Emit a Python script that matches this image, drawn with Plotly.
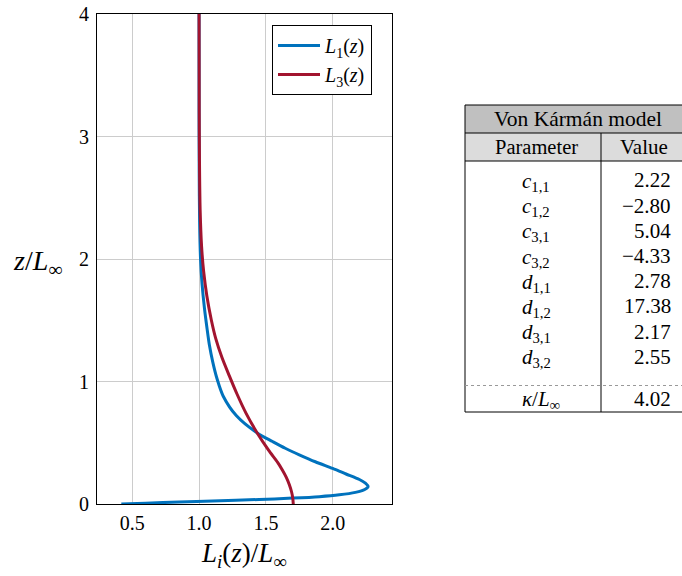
import plotly.graph_objects as go

# ---- curve data ----
L1_x = [0.418, 0.60, 0.85, 1.10, 1.45, 1.70, 1.90, 2.05, 2.17, 2.24, 2.265, 2.245, 2.20, 2.10,
        2.00, 1.87, 1.75, 1.645, 1.55, 1.435, 1.28, 1.18, 1.135, 1.103, 1.077, 1.06, 1.04,
        1.022, 1.011, 1.004, 1.001, 1.000, 1.000]
L1_z = [0.000, 0.007, 0.016, 0.025, 0.037, 0.048, 0.060, 0.075, 0.095, 0.118, 0.142, 0.170,
        0.200, 0.245, 0.290, 0.345, 0.402, 0.455, 0.510, 0.580, 0.720, 0.882, 1.020, 1.156,
        1.30, 1.43, 1.60, 1.80, 2.00, 2.30, 2.70, 3.20, 4.00]

L3_x = [1.705, 1.701, 1.692, 1.675, 1.652, 1.622, 1.588, 1.52, 1.435, 1.352, 1.283, 1.225,
        1.170, 1.125, 1.092, 1.058, 1.034, 1.019, 1.008, 1.003, 1.001, 1.000]
L3_z = [0.00, 0.05, 0.10, 0.16, 0.22, 0.28, 0.34, 0.44, 0.58, 0.74, 0.90, 1.05,
        1.20, 1.35, 1.50, 1.70, 1.90, 2.10, 2.40, 2.80, 3.20, 4.00]

x_ticks = [0.5, 1.0, 1.5, 2.0]
x_tick_labels = ["0.5", "1.0", "1.5", "2.0"]
y_ticks = [0, 1, 2, 3, 4]
y_tick_labels = ["0", "1", "2", "3", "4"]

# ---- table data ----
table_title = "Von Kármán model"
table_headers = ["Parameter", "Value"]
param_labels = ["<i>c</i><sub>1,1</sub>", "<i>c</i><sub>1,2</sub>", "<i>c</i><sub>3,1</sub>",
                "<i>c</i><sub>3,2</sub>", "<i>d</i><sub>1,1</sub>", "<i>d</i><sub>1,2</sub>",
                "<i>d</i><sub>3,1</sub>", "<i>d</i><sub>3,2</sub>"]
param_values = ["2.22", "\u22122.80", "5.04", "\u22124.33", "2.78", "17.38", "2.17", "2.55"]
kappa_label = "<i>\u03ba</i>/<i>L</i><sub>\u221e</sub>"
kappa_value = "4.02"

BLUE = "#0072BD"
RED = "#A2142F"
FONT = "Liberation Serif"

fig = go.Figure()
fig.add_trace(go.Scatter(x=L1_x, y=L1_z, mode="lines", name="<i>L</i><sub>1</sub>(<i>z</i>)",
                         line=dict(color=BLUE, width=3, shape="spline", smoothing=0.8)))
fig.add_trace(go.Scatter(x=L3_x, y=L3_z, mode="lines", name="<i>L</i><sub>3</sub>(<i>z</i>)",
                         line=dict(color=RED, width=3, shape="spline", smoothing=0.8)))

# figure fills the whole window (the page's body margin is removed below)
FW, FH = 682, 576
# plot area geometry in window pixels
PL, PR, PT, PB = 97, 392, 14, 504
W, H = PR - PL, PB - PT


def fx(p):
    return (p - PL) / W


def fy(p):
    return (PB - p) / H


shapes = []
# table (window pixel coordinates)
TL, TR, TT, TH1, TH2, TD, TB, TC = 465, 700, 105, 133, 161, 385.5, 412, 601
shapes.append(dict(type="rect", xref="paper", yref="paper", x0=fx(TL), x1=fx(TR), y0=fy(TH1), y1=fy(TT),
                   fillcolor="#c0c0c0", line=dict(width=0), layer="below"))
shapes.append(dict(type="rect", xref="paper", yref="paper", x0=fx(TL), x1=fx(TR), y0=fy(TH2), y1=fy(TH1),
                   fillcolor="#dcdcdc", line=dict(width=0), layer="below"))
for yy in [TT, TH1, TH2, TB]:
    shapes.append(dict(type="line", xref="paper", yref="paper", x0=fx(TL), x1=fx(TR), y0=fy(yy), y1=fy(yy),
                       line=dict(color="black", width=1)))
shapes.append(dict(type="line", xref="paper", yref="paper", x0=fx(TL), x1=fx(TL), y0=fy(TT), y1=fy(TB),
                   line=dict(color="black", width=1)))
shapes.append(dict(type="line", xref="paper", yref="paper", x0=fx(TC), x1=fx(TC), y0=fy(TH1), y1=fy(TB),
                   line=dict(color="black", width=1)))
shapes.append(dict(type="line", xref="paper", yref="paper", x0=fx(TL), x1=fx(TR), y0=fy(TD), y1=fy(TD),
                   line=dict(color="#999999", width=1, dash="dot")))

TF = 21
ann = []
ann.append(dict(text=table_title, x=fx(578), y=fy(118.5), xref="paper", yref="paper", showarrow=False,
                xanchor="center", yanchor="middle", font=dict(family=FONT, size=21.5, color="black")))
ann.append(dict(text=table_headers[0], x=fx(536), y=fy(147), xref="paper", yref="paper", showarrow=False,
                xanchor="center", yanchor="middle", font=dict(family=FONT, size=20.5, color="black")))
ann.append(dict(text=table_headers[1], x=fx(644), y=fy(147), xref="paper", yref="paper", showarrow=False,
                xanchor="center", yanchor="middle", font=dict(family=FONT, size=21, color="black")))
for i, (lab, val) in enumerate(zip(param_labels, param_values)):
    yc = 180.5 + 25.2 * i
    ann.append(dict(text=lab, x=fx(536), y=fy(yc + 1.5), xref="paper", yref="paper", showarrow=False,
                    xanchor="center", yanchor="middle", font=dict(family=FONT, size=TF, color="black")))
    ann.append(dict(text=val, x=fx(673), y=fy(yc), xref="paper", yref="paper", showarrow=False,
                    xanchor="right", yanchor="middle", font=dict(family=FONT, size=TF, color="black")))
ann.append(dict(text=kappa_label, x=fx(541), y=fy(400), xref="paper", yref="paper", showarrow=False,
                xanchor="center", yanchor="middle", font=dict(family=FONT, size=TF, color="black")))
ann.append(dict(text=kappa_value, x=fx(673), y=fy(398.5), xref="paper", yref="paper", showarrow=False,
                xanchor="right", yanchor="middle", font=dict(family=FONT, size=TF, color="black")))

# axis titles
ann.append(dict(text="<i>L<sub>i</sub></i>(<i>z</i>)/<i>L</i><sub>\u221e</sub>", x=fx(244), y=fy(555),
                xref="paper", yref="paper", showarrow=False, xanchor="center", yanchor="middle",
                font=dict(family=FONT, size=27, color="black")))
ann.append(dict(text="<i>z</i>/<i>L</i><sub>\u221e</sub>", x=fx(64), y=fy(262),
                xref="paper", yref="paper", showarrow=False, xanchor="right", yanchor="middle",
                font=dict(family=FONT, size=28, color="black")))

fig.update_layout(
    width=FW, height=FH,
    margin=dict(l=PL, r=FW - PR, t=PT, b=FH - PB, autoexpand=False),
    paper_bgcolor="white", plot_bgcolor="white",
    font=dict(family=FONT, size=20, color="black"),
    showlegend=True,
    legend=dict(x=fx(372), y=fy(25), xanchor="right", yanchor="top", bgcolor="white",
                bordercolor="black", borderwidth=1, font=dict(family=FONT, size=20, color="black"),
                tracegroupgap=0, itemwidth=42),
    shapes=shapes,
    annotations=ann,
)
fig.update_xaxes(range=[0.236, 2.444], tickvals=x_ticks, ticktext=x_tick_labels,
                 showgrid=True, gridcolor="#cccccc", gridwidth=1, zeroline=False,
                 showline=True, linecolor="black", linewidth=1, mirror=True,
                 ticks="outside", ticklen=1, tickcolor="rgba(0,0,0,0)", automargin=False,
                 ticklabeloverflow="allow",
                 tickfont=dict(family=FONT, size=20, color="black"))
fig.update_yaxes(range=[0, 4], tickvals=y_ticks, ticktext=y_tick_labels,
                 showgrid=True, gridcolor="#cccccc", gridwidth=1, zeroline=False,
                 showline=True, linecolor="black", linewidth=1, mirror=True,
                 ticks="outside", ticklen=3, tickcolor="rgba(0,0,0,0)", automargin=False,
                 ticklabeloverflow="allow",
                 tickfont=dict(family=FONT, size=20, color="black"))

fig.write_html("out.html", config={"displayModeBar": False},
               post_script="document.body.style.margin='0px';document.body.style.overflow='hidden';")
